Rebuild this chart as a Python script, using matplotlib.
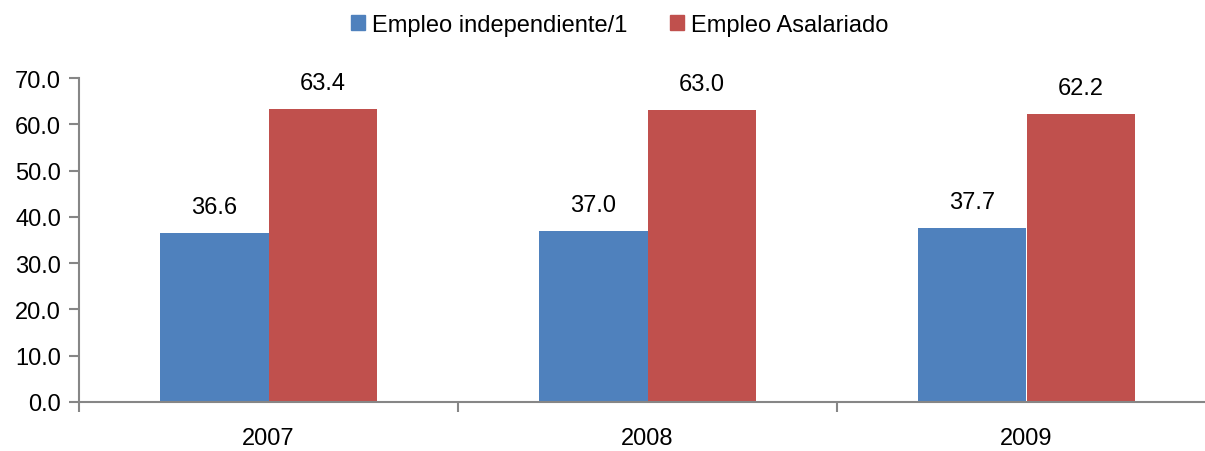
import matplotlib
matplotlib.use("Agg")
import matplotlib.pyplot as plt
import numpy as np
from matplotlib.patches import Patch

years = ["2007", "2008", "2009"]
independiente = [36.6, 37.0, 37.7]
asalariado = [63.4, 63.0, 62.2]
yticks = [0, 10, 20, 30, 40, 50, 60, 70]

plt.rcParams['font.family'] = ['Liberation Sans', 'DejaVu Sans']

blue = "#4F81BD"
red = "#C0504D"
gray = "#868686"

fig = plt.figure(figsize=(12.05, 4.52), dpi=100)
ax = fig.add_axes([79/1205, 1-403/452, 1137/1205, 324/452])

x = np.arange(len(years))
w = 0.285
b1 = ax.bar(x - w/2, independiente, w, color=blue, edgecolor='none')
b2 = ax.bar(x + w/2, asalariado, w, color=red, edgecolor='none')

for bars, vals in ((b1, independiente), (b2, asalariado)):
    for r, v in zip(bars, vals):
        ax.annotate(f"{v:.1f}", (r.get_x() + r.get_width()/2, v), xytext=(0, 15),
                    textcoords='offset pixels', ha='center', va='bottom', fontsize=17)

ax.set_xlim(-0.5, len(years) - 0.5)
ax.set_ylim(0, 70)
ax.set_yticks(yticks)
ax.set_yticklabels([f"{t:.1f}" for t in yticks], fontsize=17)
ax.set_xticks(x)
ax.set_xticklabels(years, fontsize=17)
ax.set_xticks(np.arange(len(years) + 1) - 0.5, minor=True)
ax.tick_params(axis='x', which='major', length=0, pad=18)
ax.tick_params(axis='x', which='minor', length=7, color=gray, width=1.5)
ax.tick_params(axis='y', length=7, color=gray, width=1.5, pad=6)
for s in ('top', 'right'):
    ax.spines[s].set_visible(False)
for s in ('left', 'bottom'):
    ax.spines[s].set_color(gray)
    ax.spines[s].set_linewidth(1.5)

handles = [Patch(color=blue), Patch(color=red)]
fig.legend(handles, ["Empleo independiente/1", "Empleo Asalariado"], loc='center',
           bbox_to_anchor=(620/1205, 1 - 26/452), ncol=2, frameon=False, fontsize=17,
           handlelength=0.6, handleheight=0.6, handletextpad=0.3, columnspacing=1.8)

fig.savefig("out.png", dpi=100)
